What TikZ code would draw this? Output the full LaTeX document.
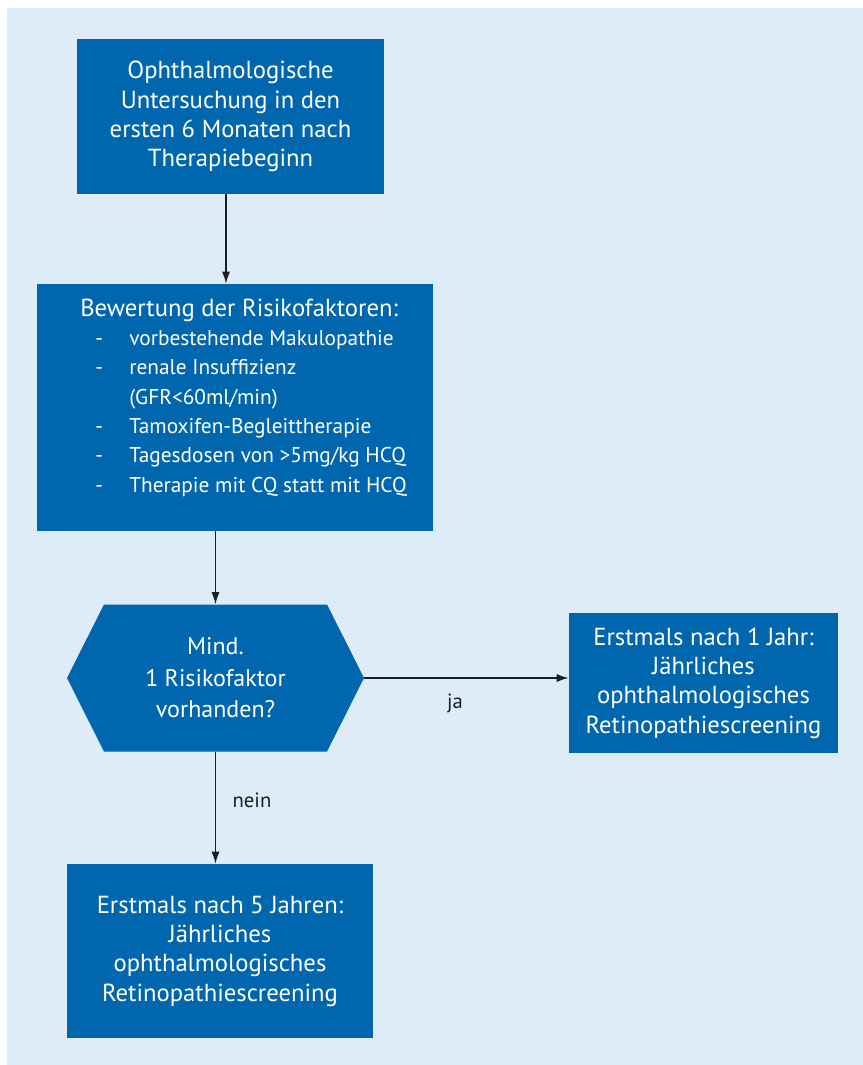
\documentclass[tikz,border=0pt]{standalone}
\usepackage{fontspec}
\setmainfont{PT Sans}
\usetikzlibrary{positioning, shapes, arrows.meta}

\definecolor{boxblau}{RGB}{0,102,174}
\definecolor{hellblau}{RGB}{222,236,248}
\definecolor{pfeil}{RGB}{30,30,30}

\tikzset{
  kasten/.style={fill=boxblau, draw=none, text=white, align=center,
    font=\fontsize{18.5}{22}\selectfont, inner sep=0pt},
  frage/.style={kasten, shape=signal, signal to=east and west,
    signal pointer angle=126.6, font=\fontsize{18}{23.6}\selectfont},
  pfeillinie/.style={draw=pfeil, line width=1.1pt,
    -{Latex[length=9pt,width=6pt]}},
  marke/.style={font=\fontsize{15.5}{18}\selectfont, text=pfeil}
}

\newcommand{\strich}{\hspace*{11.25pt}\makebox[25.5pt][l]{-}}

\begin{document}
\begin{tikzpicture}[x=0.75pt,y=-0.75pt]
\useasboundingbox (0,0) rectangle (863,1065);
\fill[hellblau] (7,8) rectangle (863,1065);

% Kaesten
\node[kasten, minimum width=230.25pt, minimum height=116.25pt] (untersuchung) at (230.5,116.5)
  {Ophthalmologische\\Untersuchung in den\\ersten 6 Monaten nach\\Therapiebeginn};
\node[kasten, minimum width=297pt, minimum height=185.25pt] (bewertung) at (235,407.5) {};
\node[kasten, align=left, fill=none, anchor=west, font=\fontsize{16}{22}\selectfont]
  (bewertungtext) at (80,397.5)
  {{\fontsize{18.5}{22}\selectfont Bewertung der Risikofaktoren:}\\
   \strich vorbestehende Makulopathie\\
   \strich renale Insuffizienz\\
   \hspace*{36.75pt}(GFR<60ml/min)\\
   \strich Tamoxifen-Begleittherapie\\
   \strich Tagesdosen von >5mg/kg HCQ\\
   \strich Therapie mit CQ statt mit HCQ};
\node[frage, minimum width=222.75pt, minimum height=110.25pt] (risiko) at (215.5,678)
  {Mind.\\1 Risikofaktor\\vorhanden?};
\node[kasten, minimum width=201.75pt, minimum height=105pt] (jaehrlich) at (703.5,683)
  {Erstmals nach 1 Jahr:\\Jährliches\\ophthalmologisches\\Retinopathiescreening};
\node[kasten, minimum width=229.5pt, minimum height=130.5pt] (fuenfjahre) at (220,951)
  {Erstmals nach 5 Jahren:\\Jährliches\\ophthalmologisches\\Retinopathiescreening};

% Pfeile
\coordinate (spalte) at (226,0);
\draw[pfeillinie] (untersuchung.south -| spalte) -- (bewertung.north -| spalte);
\draw[pfeillinie] (bewertung.south -| risiko.north) -- (risiko.north);
\draw[pfeillinie] (risiko.east) -- (risiko.east -| jaehrlich.west);
\draw[pfeillinie] (risiko.south) -- (risiko.south |- fuenfjahre.north);

% Beschriftungen
\node[marke] (ja) at (455,703) {ja};
\node[marke] (nein) at (252,800) {nein};
\end{tikzpicture}
\end{document}
